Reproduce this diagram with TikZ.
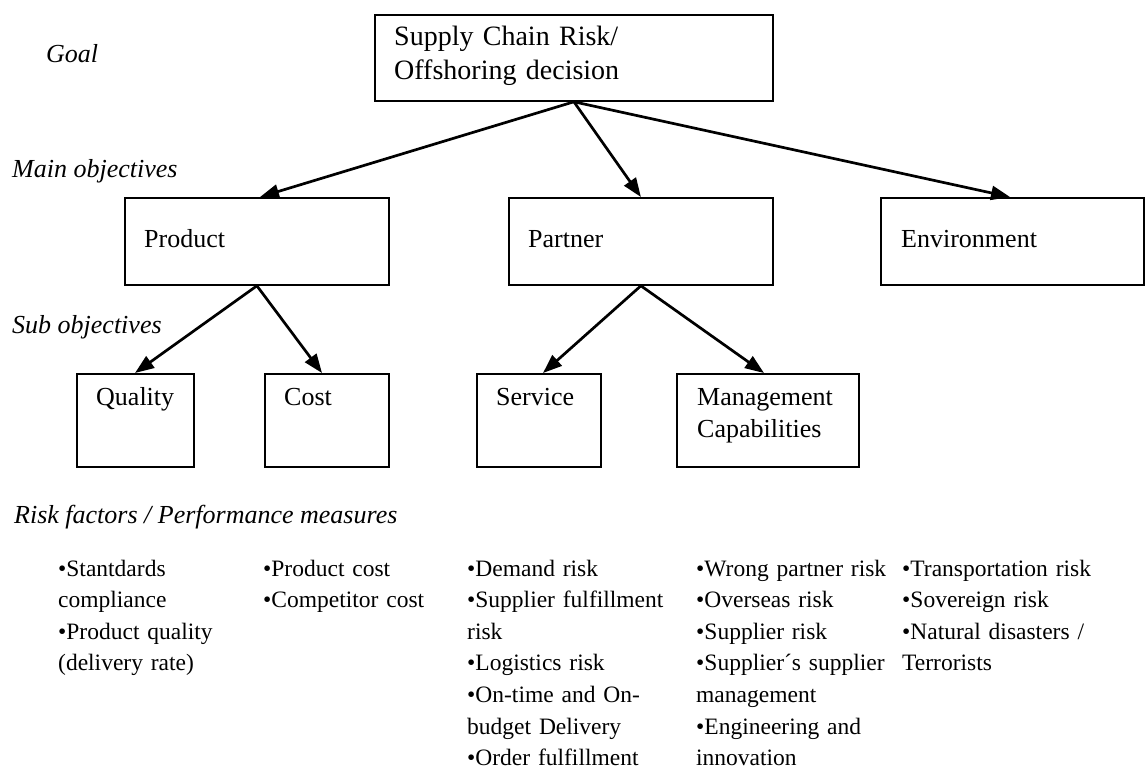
\documentclass[tikz,border=0pt]{standalone}
\usepackage{fontspec}
\setmainfont{Liberation Serif}
\usetikzlibrary{arrows.meta,calc}
\begin{document}
\begin{tikzpicture}[x=1pt,y=-1pt,
  box/.style={draw,line width=1.8pt,rectangle,inner sep=0pt,anchor=north west},
  boxtext/.style={anchor=base west,inner sep=0pt,font=\fontsize{26}{32}\selectfont},
  multitext/.style={anchor=base west,inner sep=0pt,text width=#1,align=left,font=\fontsize{26}{32}\selectfont},
  level/.style={anchor=base west,inner sep=0pt,font=\fontsize{26}{32}\selectfont\itshape},
  items/.style={anchor=base west,inner sep=0pt,text width=230pt,align=left,font=\fontsize{23.5}{31.6}\selectfont},
  link/.style={line width=2.7pt,-{Triangle[length=19pt,width=14pt]}}]

\path[use as bounding box] (0,0) rectangle (1147,771);

% level labels
\node[level] (lgoal) at (46,62) {Goal};
\node[level] (lmain) at (12,177) {Main objectives};
\node[level] (lsub) at (12,333) {Sub objectives};
\node[level] (lrisk) at (14,523) {Risk factors / Performance measures};

% goal
\node[box,minimum width=398pt,minimum height=86pt] (goal) at (374,14) {};
\node[multitext=370pt,font=\fontsize{28}{34}\selectfont] (goaltxt) at (394,45) {Supply Chain Risk/\\Offshoring decision};

% main objectives
\node[box,minimum width=264pt,minimum height=87pt] (product) at (124,197) {};
\node[boxtext] (producttxt) at (144,247) {Product};
\node[box,minimum width=264pt,minimum height=87pt] (partner) at (508,197) {};
\node[boxtext] (partnertxt) at (528,247) {Partner};
\node[box,minimum width=263pt,minimum height=87pt] (environment) at (880,197) {};
\node[boxtext] (environmenttxt) at (901,247) {Environment};

% sub objectives
\node[box,minimum width=117pt,minimum height=93pt] (quality) at (76,373) {};
\node[boxtext] (qualitytxt) at (96,405) {Quality};
\node[box,minimum width=124pt,minimum height=93pt] (cost) at (264,373) {};
\node[boxtext] (costtxt) at (284,405) {Cost};
\node[box,minimum width=124pt,minimum height=93pt] (service) at (476,373) {};
\node[boxtext] (servicetxt) at (496,405) {Service};
\node[box,minimum width=182pt,minimum height=93pt] (management) at (676,373) {};
\node[multitext=170pt] (managementtxt) at (697,405) {Management\\Capabilities};

% connectors
\draw[link] (goal.south) -- ($(product.north west)+(136,0)$);
\draw[link] (goal.south) -- (partner.north);
\draw[link] (goal.south) -- ($(environment.north west)+(130,0)$);
\draw[link] (product.south) -- ($(quality.north west)+(59,0)$);
\draw[link] (product.south) -- ($(cost.north west)+(58,0)$);
\draw[link] (partner.south) -- ($(service.north west)+(67,0)$);
\draw[link] (partner.south) -- ($(management.north west)+(88,0)$);

% risk factors / performance measures
\node[items] (col1) at (58,576) {•Stantdards\\compliance\\•Product quality\\(delivery rate)};
\node[items] (col2) at (263,576) {•Product cost\\•Competitor cost};
\node[items] (col3) at (467,576) {•Demand risk\\•Supplier fulfillment\\risk\\•Logistics risk\\•On-time and On-\\budget Delivery\\•Order fulfillment};
\node[items] (col4) at (696,576) {•Wrong partner risk\\•Overseas risk\\•Supplier risk\\•Supplier´s supplier\\management\\•Engineering and\\innovation};
\node[items] (col5) at (902,576) {•Transportation risk\\•Sovereign risk\\•Natural disasters /\\Terrorists};
\end{tikzpicture}
\end{document}
